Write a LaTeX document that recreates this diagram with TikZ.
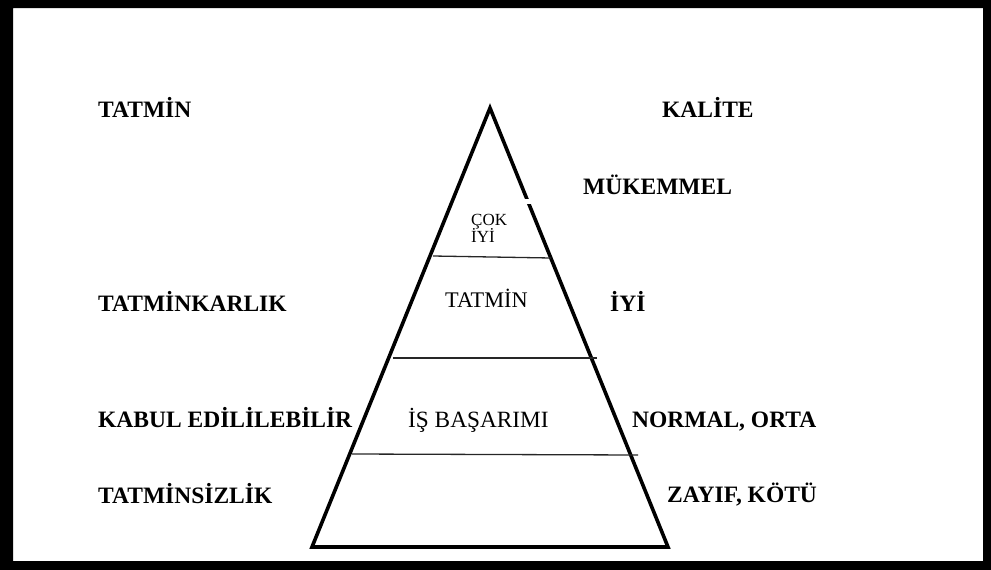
\documentclass[tikz,border=0pt]{standalone}
\usepackage{fontspec}
\setmainfont{Liberation Serif}
\begin{document}
\begin{tikzpicture}[x=1pt,y=-1pt,
  lab/.style={anchor=base west,inner sep=0pt,font=\fontsize{23.5}{23.5}\selectfont\bfseries},
  inlab/.style={anchor=base west,inner sep=0pt,font=\fontsize{22.3}{22.3}\selectfont},
  small/.style={anchor=base west,inner sep=0pt,font=\fontsize{17}{17}\selectfont},
  band/.style={line width=1.3pt,draw=black!85}]
\useasboundingbox (0,0) rectangle (991,570);
% frame
\fill[even odd rule,black] (0,0) rectangle (991,570) (13,8) rectangle (983,561);
% pyramid
\coordinate (apex) at (490,108);
\coordinate (bl) at (312,547);
\coordinate (br) at (668,547);
\draw[line width=3.6pt,line join=miter] (apex) -- (br) -- (bl) -- cycle;
\fill[white] (524,199) rectangle (531,204);
% bands
\draw[band] (433,256) -- (551,258);
\draw[band] (393,358) -- (597,358);
\draw[band] (352,454) -- (638,455);
% left labels
\node[lab] (l1) at (98,117) {TATMİN};
\node[lab] (l2) at (98,311) {TATMİNKARLIK};
\node[lab] (l3) at (98,427) {KABUL EDİLİLEBİLİR};
\node[lab] (l4) at (98,503) {TATMİNSİZLİK};
% right labels
\node[lab] (r1) at (662,117) {KALİTE};
\node[lab] (r2) at (583,194) {MÜKEMMEL};
\node[lab] (r3) at (610,311) {İYİ};
\node[lab] (r4) at (632,427) {NORMAL, ORTA};
\node[lab] (r5) at (667,502) {ZAYIF, KÖTÜ};
% inner labels
\node[small] (c1) at (471,225) {ÇOK};
\node[small] (c2) at (471,242) {İYİ};
\node[inlab] (c3) at (445,307) {TATMİN};
\node[inlab,font=\fontsize{23.3}{23.3}\selectfont] (c4) at (408,427) {İŞ BAŞARIMI};
\end{tikzpicture}
\end{document}
